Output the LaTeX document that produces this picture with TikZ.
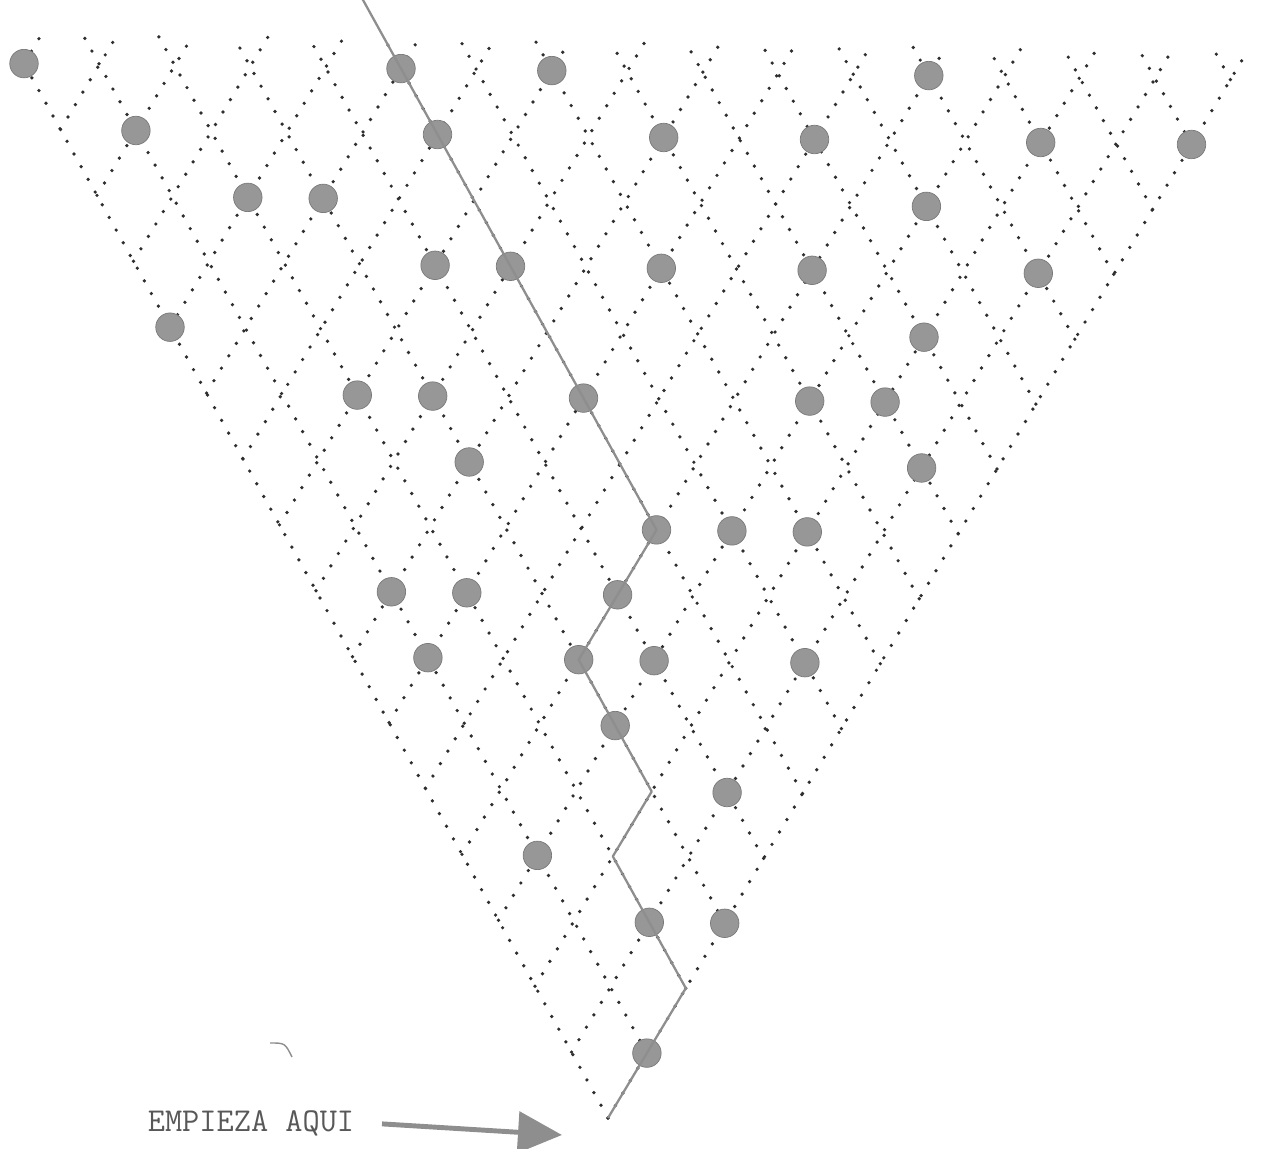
\documentclass[tikz,border=0pt]{standalone}
\usepackage{tikz}
\usetikzlibrary{arrows.meta,positioning}
\definecolor{inkdark}{HTML}{2E2E2E}
\definecolor{pebble}{HTML}{979797}
\definecolor{trailgray}{HTML}{8E8E8E}
\tikzset{
  dotline/.style={inkdark, line width=2.1pt, line cap=round, dash pattern=on 0pt off 0.29cm},
  peg/.style={circle, fill=pebble, draw=pebble!80!black, line width=0.4pt,
    minimum size=0.57cm, inner sep=0pt},
  trail/.style={trailgray, line width=1.3pt, line join=round},
  note/.style={font=\ttfamily\fontsize{19}{21}\selectfont, text=inkdark!80, inner sep=0pt},
  flow/.style={-{Triangle[length=0.88cm, width=0.82cm]}, line width=2.8pt, color=trailgray},
}

\begin{document}
\begin{tikzpicture}
  \useasboundingbox (0,0) rectangle (25.34,22.98);
  % lattice: x runs up-right, y runs up-left, apex at the origin
  \begin{scope}[shift={(12.16,0.62)}, x={(0.778cm,1.298cm)}, y={(-0.730cm,1.318cm)}]
    \foreach \v in {0,...,16} {
      \pgfmathsetmacro{\ue}{16.45-\v}
      \draw[dotline] (0,\v) -- (\ue,\v);}
    \foreach \u in {1,...,16} {
      \pgfmathsetmacro{\ve}{16.45-\u}
      \draw[dotline] (\u,0) -- (\u,\ve);}
    \draw[dotline] (0,0) -- (0,16);
    % the pegs
    \foreach \u/\v in {1/0, 2/1, 3/0, 1/3, 4/1, 3/3, 1/6, 3/4, 4/3, 6/1,
                       1/7, 2/6, 4/4, 5/4, 6/3, 7/2, 3/7, 9/1, 2/9, 3/8,
                       5/6, 8/3, 9/2, 0/12, 10/2, 4/9, 5/8, 7/6, 9/4, 12/1,
                       2/12, 3/11, 11/3, 1/14, 5/10, 8/7, 10/5, 13/2, 15/0,
                       0/16, 5/11, 7/9, 12/4} {
      \node[peg] (b\u-\v) at (\u,\v) {};}
    % the way through
    \draw[trail] (0,0) -- (2,0) -- (2,2) -- (3,2) -- (3,4) -- (5,4) -- (5,12.1);
  \end{scope}
  \node[note, anchor=base] (start) at (5.02,0.34) {EMPIEZA AQUI};
  \coordinate (tip) at (11.24,0.28);
  \draw[flow] ([xshift=0.55cm]start.east) -- (tip);
  % stray stroke above the label
  \draw[trailgray, line width=0.8pt] (5.40,2.12) .. controls (5.70,2.12) .. (5.84,1.84);
\end{tikzpicture}
\end{document}
